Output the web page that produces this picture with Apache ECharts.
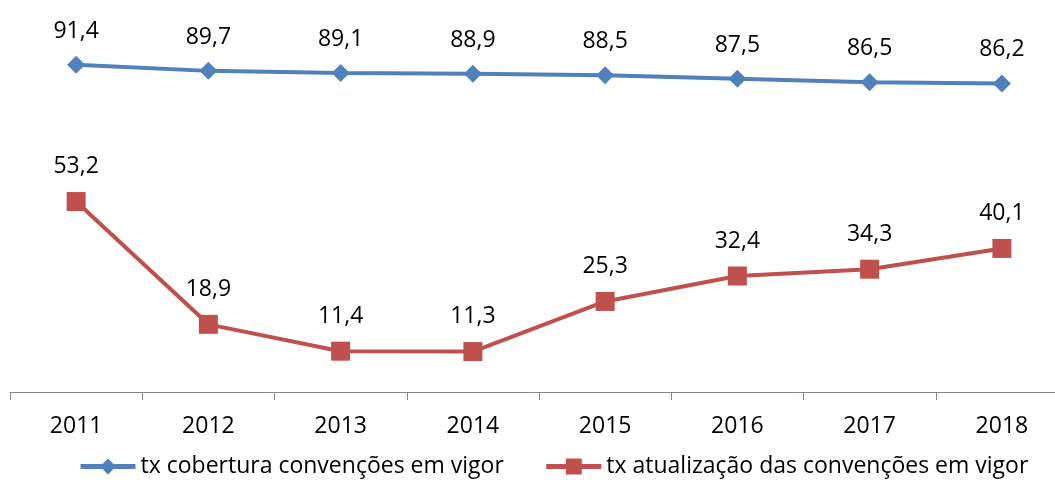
<!DOCTYPE html>
<html>
<head>
<meta charset="utf-8">
<title>ECharts</title>
<script type="text/javascript" src="https://cdn.jsdelivr.net/npm/echarts@6/dist/echarts.min.js"></script>
<style>
	body { margin: 0; }
</style>
</head>
<body>
	<div id="main" style="width: 1055px; height: 480px;"></div>
<script type="text/javascript">
	var anos = [ '2011', '2012', '2013', '2014', '2015', '2016', '2017', '2018' ];
	var cobertura = [ 91.4, 89.7, 89.1, 88.9, 88.5, 87.5, 86.5, 86.2 ];
	var atualizacao = [ 53.2, 18.9, 11.4, 11.3, 25.3, 32.4, 34.3, 40.1 ];
	var nomeCobertura = 'tx cobertura convenções em vigor';
	var nomeAtualizacao = 'tx atualização das convenções em vigor';

	var fonte = '"Open Sans", sans-serif';

	function virgula(p) {
		return p.value.toFixed(1).replace('.', ',');
	}

	var myChart = echarts.init(document.getElementById('main'));
	var option = {
		animation : false,
		textStyle : { fontFamily : fonte },
		legend : {
			bottom : -3,
			left : 73,
			itemWidth : 55,
			itemHeight : 20,
			itemGap : 40,
			lineStyle : { width : 5 },
			textStyle : { fontSize : 23, color : '#000', fontFamily : fonte },
			data : [ nomeCobertura, nomeAtualizacao ]
		},
		grid : {
			left : 10,
			top : 34,
			right : -13,
			height : 358,
			outerBoundsMode : 'none'
		},
		xAxis : {
			type : 'category',
			data : anos,
			boundaryGap : true,
			axisLine : { lineStyle : { color : '#888', width : 1 } },
			axisTick : { show : true, length : 8, lineStyle : { color : '#888' } },
			axisLabel : { fontSize : 23, color : '#000', margin : 23, fontFamily : fonte }
		},
		yAxis : {
			type : 'value',
			min : 0,
			max : 100,
			show : false
		},
		series : [ {
			name : nomeCobertura,
			type : 'line',
			data : cobertura,
			symbol : 'diamond',
			symbolSize : 18,
			color : '#4F81BD',
			lineStyle : { width : 4, color : '#4F81BD' },
			label : {
				show : true,
				position : 'top',
				distance : 13,
				fontSize : 23,
				color : '#000',
				fontFamily : fonte,
				formatter : virgula
			}
		}, {
			name : nomeAtualizacao,
			type : 'line',
			data : atualizacao,
			symbol : 'rect',
			symbolSize : 19,
			color : '#C0504D',
			lineStyle : { width : 4, color : '#C0504D' },
			label : {
				show : true,
				position : 'top',
				distance : 14,
				fontSize : 23,
				color : '#000',
				fontFamily : fonte,
				formatter : virgula
			}
		} ]
	};
	myChart.setOption(option);
</script>
</body>
</html>
